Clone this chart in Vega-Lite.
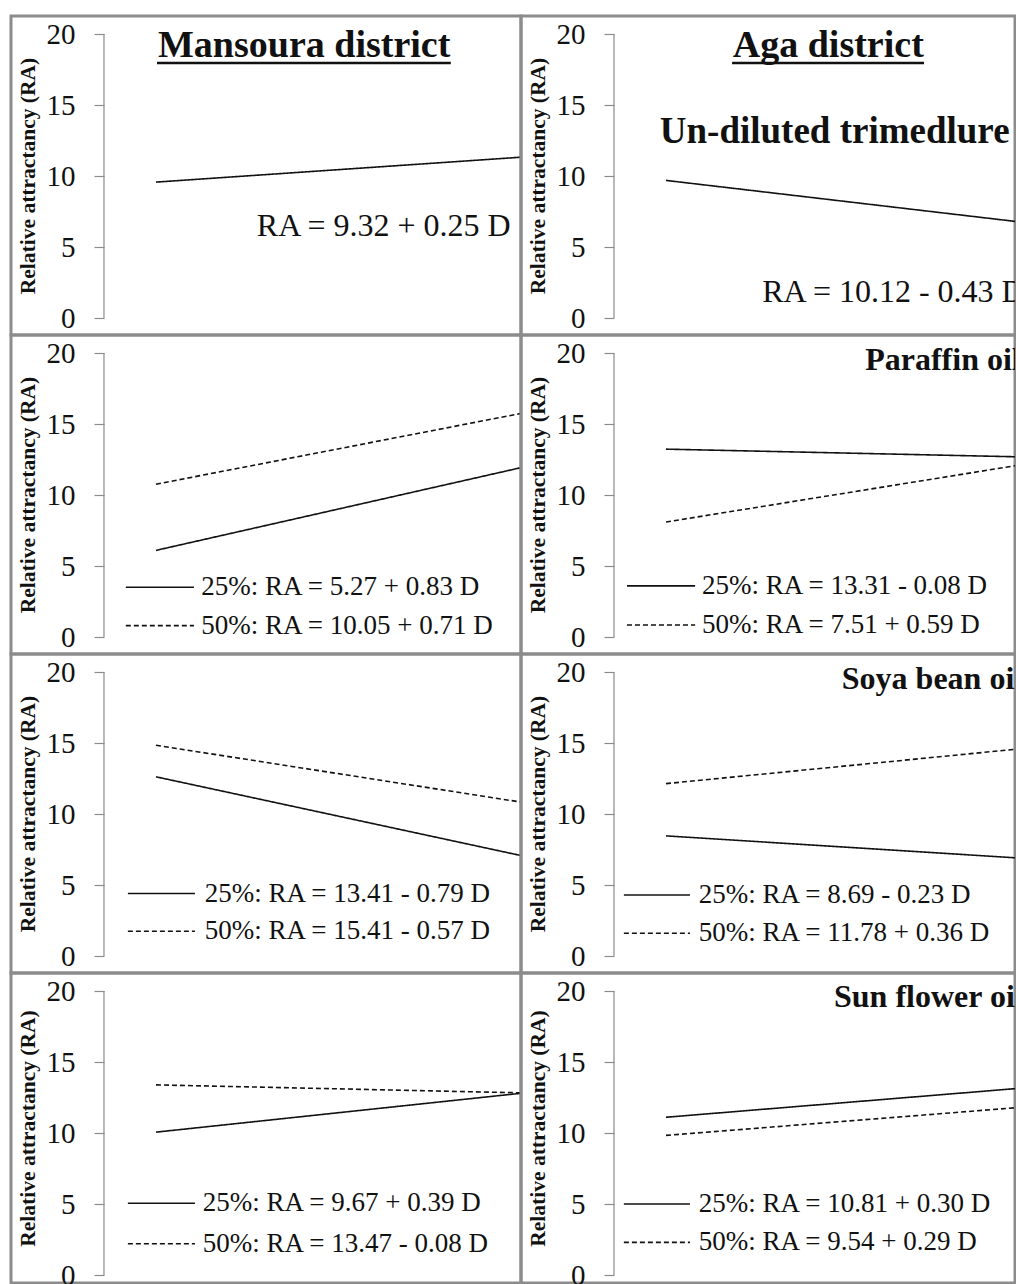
{
  "$schema": "https://vega.github.io/schema/vega-lite/v6.json",
  "padding": {"left": 9, "top": 14, "right": 0, "bottom": 0},
  "background": "white",
  "columns": 2,
  "spacing": 0,
  "bounds": "flush",
  "config": {
    "view": {"stroke": "#8c8c8c", "strokeWidth": 3},
    "concat": {"spacing": 0},
    "text": {"font": "Liberation Serif", "color": "#111", "fontSize": 27, "baseline": "middle"},
    "rule": {"color": "#111", "strokeWidth": 1.6},
    "line": {"color": "#111", "strokeWidth": 1.6}
  },
  "datasets": {
    "lines": [
      {"panel": "M1", "conc": "single", "D": 1, "RA": 9.57},
      {"panel": "M1", "conc": "single", "D": 8, "RA": 11.32},
      {"panel": "A1", "conc": "single", "D": 1, "RA": 9.69},
      {"panel": "A1", "conc": "single", "D": 8, "RA": 6.68},
      {"panel": "M2", "conc": "25%", "D": 1, "RA": 6.10},
      {"panel": "M2", "conc": "25%", "D": 8, "RA": 11.91},
      {"panel": "M2", "conc": "50%", "D": 1, "RA": 10.76},
      {"panel": "M2", "conc": "50%", "D": 8, "RA": 15.73},
      {"panel": "A2", "conc": "25%", "D": 1, "RA": 13.23},
      {"panel": "A2", "conc": "25%", "D": 8, "RA": 12.67},
      {"panel": "A2", "conc": "50%", "D": 1, "RA": 8.10},
      {"panel": "A2", "conc": "50%", "D": 8, "RA": 12.23},
      {"panel": "M3", "conc": "25%", "D": 1, "RA": 12.62},
      {"panel": "M3", "conc": "25%", "D": 8, "RA": 7.09},
      {"panel": "M3", "conc": "50%", "D": 1, "RA": 14.84},
      {"panel": "M3", "conc": "50%", "D": 8, "RA": 10.85},
      {"panel": "A3", "conc": "25%", "D": 1, "RA": 8.46},
      {"panel": "A3", "conc": "25%", "D": 8, "RA": 6.85},
      {"panel": "A3", "conc": "50%", "D": 1, "RA": 12.14},
      {"panel": "A3", "conc": "50%", "D": 8, "RA": 14.66},
      {"panel": "M4", "conc": "25%", "D": 1, "RA": 10.06},
      {"panel": "M4", "conc": "25%", "D": 8, "RA": 12.79},
      {"panel": "M4", "conc": "50%", "D": 1, "RA": 13.39},
      {"panel": "M4", "conc": "50%", "D": 8, "RA": 12.83},
      {"panel": "A4", "conc": "25%", "D": 1, "RA": 11.11},
      {"panel": "A4", "conc": "25%", "D": 8, "RA": 13.21},
      {"panel": "A4", "conc": "50%", "D": 1, "RA": 9.83},
      {"panel": "A4", "conc": "50%", "D": 8, "RA": 11.86}
    ]
  },
  "concat": [
    {
      "width": 510, "height": 319,
      "layer": [
        {"data": {"values": [{}]}, "mark": {"type": "rule", "color": "#8c8c8c", "strokeWidth": 1.2},
         "encoding": {"x": {"datum": 0, "type": "quantitative", "scale": {"domain": [-1.788, 8.02], "nice": false, "zero": false}, "axis": null},
                      "y": {"datum": 0, "type": "quantitative", "scale": {"domain": [-1.197, 21.268], "nice": false, "zero": false}},
                      "y2": {"datum": 20}}},
        {"data": {"name": "lines"}, "transform": [{"filter": "datum.panel == 'M1'"}],
         "mark": {"type": "line", "clip": true},
         "encoding": {"x": {"field": "D", "type": "quantitative", "scale": {"domain": [-1.788, 8.02], "nice": false, "zero": false}, "axis": null},
                      "y": {"field": "RA", "type": "quantitative", "scale": {"domain": [-1.197, 21.268], "nice": false, "zero": false},
                            "axis": {"values": [0, 5, 10, 15, 20], "title": "Relative attractancy (RA)", "offset": -93, "domain": false, "grid": false, "tickColor": "#8c8c8c", "tickSize": 10, "tickWidth": 1.2, "labelFont": "Liberation Serif", "labelFontSize": 29, "labelColor": "#111", "labelPadding": 19, "titleFont": "Liberation Serif", "titleFontSize": 21.5, "titleFontWeight": "bold", "titleColor": "#111", "titleX": -65}},
                      "strokeDash": {"field": "conc", "type": "nominal", "scale": {"domain": ["single", "25%", "50%"], "range": [[1, 0], [1, 0], [5, 3]]}, "legend": null}}},
        {"data": {"values": [{"label": "Mansoura district"}]}, "mark": {"type": "text", "align": "center", "baseline": "alphabetic", "fontSize": 38, "fontWeight": "bold"},
         "encoding": {"x": {"datum": 3.85, "type": "quantitative", "scale": {"domain": [-1.788, 8.02], "nice": false, "zero": false}, "axis": null},
                      "y": {"datum": 18.4, "type": "quantitative", "scale": {"domain": [-1.197, 21.268], "nice": false, "zero": false}},
                      "text": {"field": "label"}}},
        {"data": {"values": [{}]}, "mark": {"type": "rule", "strokeWidth": 2.5},
         "encoding": {"x": {"datum": 1.02, "type": "quantitative", "scale": {"domain": [-1.788, 8.02], "nice": false, "zero": false}, "axis": null},
                      "x2": {"datum": 6.67},
                      "y": {"datum": 17.95, "type": "quantitative", "scale": {"domain": [-1.197, 21.268], "nice": false, "zero": false}}}},
        {"data": {"values": [{"label": "RA = 9.32 + 0.25 D"}]}, "mark": {"type": "text", "align": "center", "fontSize": 32},
         "encoding": {"x": {"datum": 5.38, "type": "quantitative", "scale": {"domain": [-1.788, 8.02], "nice": false, "zero": false}, "axis": null},
                      "y": {"datum": 6.5, "type": "quantitative", "scale": {"domain": [-1.197, 21.268], "nice": false, "zero": false}},
                      "text": {"field": "label"}}}
      ]
    },
    {
      "width": 494, "height": 319,
      "layer": [
        {"data": {"values": [{}]}, "mark": {"type": "rule", "color": "#8c8c8c", "strokeWidth": 1.2},
         "encoding": {"x": {"datum": 0, "type": "quantitative", "scale": {"domain": [-1.788, 7.71], "nice": false, "zero": false}, "axis": null},
                      "y": {"datum": 0, "type": "quantitative", "scale": {"domain": [-1.197, 21.268], "nice": false, "zero": false}},
                      "y2": {"datum": 20}}},
        {"data": {"name": "lines"}, "transform": [{"filter": "datum.panel == 'A1'"}],
         "mark": {"type": "line", "clip": true},
         "encoding": {"x": {"field": "D", "type": "quantitative", "scale": {"domain": [-1.788, 7.71], "nice": false, "zero": false}, "axis": null},
                      "y": {"field": "RA", "type": "quantitative", "scale": {"domain": [-1.197, 21.268], "nice": false, "zero": false},
                            "axis": {"values": [0, 5, 10, 15, 20], "title": "Relative attractancy (RA)", "offset": -93, "domain": false, "grid": false, "tickColor": "#8c8c8c", "tickSize": 10, "tickWidth": 1.2, "labelFont": "Liberation Serif", "labelFontSize": 29, "labelColor": "#111", "labelPadding": 19, "titleFont": "Liberation Serif", "titleFontSize": 21.5, "titleFontWeight": "bold", "titleColor": "#111", "titleX": -65}},
                      "strokeDash": {"field": "conc", "type": "nominal", "scale": {"domain": ["single", "25%", "50%"], "range": [[1, 0], [1, 0], [5, 3]]}, "legend": null}}},
        {"data": {"values": [{"label": "Aga district"}]}, "mark": {"type": "text", "align": "center", "baseline": "alphabetic", "fontSize": 38, "fontWeight": "bold", "clip": true},
         "encoding": {"x": {"datum": 4.12, "type": "quantitative", "scale": {"domain": [-1.788, 7.71], "nice": false, "zero": false}, "axis": null},
                      "y": {"datum": 18.4, "type": "quantitative", "scale": {"domain": [-1.197, 21.268], "nice": false, "zero": false}},
                      "text": {"field": "label"}}},
        {"data": {"values": [{}]}, "mark": {"type": "rule", "strokeWidth": 2.5},
         "encoding": {"x": {"datum": 2.27, "type": "quantitative", "scale": {"domain": [-1.788, 7.71], "nice": false, "zero": false}, "axis": null},
                      "x2": {"datum": 5.96},
                      "y": {"datum": 17.95, "type": "quantitative", "scale": {"domain": [-1.197, 21.268], "nice": false, "zero": false}}}},
        {"data": {"values": [{"label": "Un-diluted trimedlure"}]}, "mark": {"type": "text", "align": "left", "fontSize": 37, "fontWeight": "bold", "clip": true},
         "encoding": {"x": {"datum": 0.88, "type": "quantitative", "scale": {"domain": [-1.788, 7.71], "nice": false, "zero": false}, "axis": null},
                      "y": {"datum": 13.1, "type": "quantitative", "scale": {"domain": [-1.197, 21.268], "nice": false, "zero": false}},
                      "text": {"field": "label"}}},
        {"data": {"values": [{"label": "RA = 10.12 - 0.43 D"}]}, "mark": {"type": "text", "align": "left", "fontSize": 32, "clip": true},
         "encoding": {"x": {"datum": 2.85, "type": "quantitative", "scale": {"domain": [-1.788, 7.71], "nice": false, "zero": false}, "axis": null},
                      "y": {"datum": 1.83, "type": "quantitative", "scale": {"domain": [-1.197, 21.268], "nice": false, "zero": false}},
                      "text": {"field": "label"}}}
      ]
    },
    {
      "width": 510, "height": 319,
      "layer": [
        {"data": {"values": [{}]}, "mark": {"type": "rule", "color": "#8c8c8c", "strokeWidth": 1.2},
         "encoding": {"x": {"datum": 0, "type": "quantitative", "scale": {"domain": [-1.788, 8.02], "nice": false, "zero": false}, "axis": null},
                      "y": {"datum": 0, "type": "quantitative", "scale": {"domain": [-1.197, 21.268], "nice": false, "zero": false}},
                      "y2": {"datum": 20}}},
        {"data": {"name": "lines"}, "transform": [{"filter": "datum.panel == 'M2'"}],
         "mark": {"type": "line", "clip": true},
         "encoding": {"x": {"field": "D", "type": "quantitative", "scale": {"domain": [-1.788, 8.02], "nice": false, "zero": false}, "axis": null},
                      "y": {"field": "RA", "type": "quantitative", "scale": {"domain": [-1.197, 21.268], "nice": false, "zero": false},
                            "axis": {"values": [0, 5, 10, 15, 20], "title": "Relative attractancy (RA)", "offset": -93, "domain": false, "grid": false, "tickColor": "#8c8c8c", "tickSize": 10, "tickWidth": 1.2, "labelFont": "Liberation Serif", "labelFontSize": 29, "labelColor": "#111", "labelPadding": 19, "titleFont": "Liberation Serif", "titleFontSize": 21.5, "titleFontWeight": "bold", "titleColor": "#111", "titleX": -65}},
                      "strokeDash": {"field": "conc", "type": "nominal", "scale": {"domain": ["single", "25%", "50%"], "range": [[1, 0], [1, 0], [5, 3]]}, "legend": null}}},
        {"data": {"values": [{}]}, "mark": {"type": "rule"},
         "encoding": {"x": {"datum": 0.42, "type": "quantitative", "scale": {"domain": [-1.788, 8.02], "nice": false, "zero": false}, "axis": null},
                      "x2": {"datum": 1.73},
                      "y": {"datum": 3.5, "type": "quantitative", "scale": {"domain": [-1.197, 21.268], "nice": false, "zero": false}}}},
        {"data": {"values": [{}]}, "mark": {"type": "rule", "strokeDash": [5, 3]},
         "encoding": {"x": {"datum": 0.42, "type": "quantitative", "scale": {"domain": [-1.788, 8.02], "nice": false, "zero": false}, "axis": null},
                      "x2": {"datum": 1.73},
                      "y": {"datum": 0.8, "type": "quantitative", "scale": {"domain": [-1.197, 21.268], "nice": false, "zero": false}}}},
        {"data": {"values": [{"label": "25%: RA = 5.27 + 0.83 D"}]}, "mark": {"type": "text", "align": "left"},
         "encoding": {"x": {"datum": 1.87, "type": "quantitative", "scale": {"domain": [-1.788, 8.02], "nice": false, "zero": false}, "axis": null},
                      "y": {"datum": 3.5, "type": "quantitative", "scale": {"domain": [-1.197, 21.268], "nice": false, "zero": false}},
                      "text": {"field": "label"}}},
        {"data": {"values": [{"label": "50%: RA = 10.05 + 0.71 D"}]}, "mark": {"type": "text", "align": "left"},
         "encoding": {"x": {"datum": 1.87, "type": "quantitative", "scale": {"domain": [-1.788, 8.02], "nice": false, "zero": false}, "axis": null},
                      "y": {"datum": 0.8, "type": "quantitative", "scale": {"domain": [-1.197, 21.268], "nice": false, "zero": false}},
                      "text": {"field": "label"}}}
      ]
    },
    {
      "width": 494, "height": 319,
      "layer": [
        {"data": {"values": [{}]}, "mark": {"type": "rule", "color": "#8c8c8c", "strokeWidth": 1.2},
         "encoding": {"x": {"datum": 0, "type": "quantitative", "scale": {"domain": [-1.788, 7.71], "nice": false, "zero": false}, "axis": null},
                      "y": {"datum": 0, "type": "quantitative", "scale": {"domain": [-1.197, 21.268], "nice": false, "zero": false}},
                      "y2": {"datum": 20}}},
        {"data": {"name": "lines"}, "transform": [{"filter": "datum.panel == 'A2'"}],
         "mark": {"type": "line", "clip": true},
         "encoding": {"x": {"field": "D", "type": "quantitative", "scale": {"domain": [-1.788, 7.71], "nice": false, "zero": false}, "axis": null},
                      "y": {"field": "RA", "type": "quantitative", "scale": {"domain": [-1.197, 21.268], "nice": false, "zero": false},
                            "axis": {"values": [0, 5, 10, 15, 20], "title": "Relative attractancy (RA)", "offset": -93, "domain": false, "grid": false, "tickColor": "#8c8c8c", "tickSize": 10, "tickWidth": 1.2, "labelFont": "Liberation Serif", "labelFontSize": 29, "labelColor": "#111", "labelPadding": 19, "titleFont": "Liberation Serif", "titleFontSize": 21.5, "titleFontWeight": "bold", "titleColor": "#111", "titleX": -65}},
                      "strokeDash": {"field": "conc", "type": "nominal", "scale": {"domain": ["single", "25%", "50%"], "range": [[1, 0], [1, 0], [5, 3]]}, "legend": null}}},
        {"data": {"values": [{"label": "Paraffin oil"}]}, "mark": {"type": "text", "align": "left", "fontSize": 32, "fontWeight": "bold", "clip": true},
         "encoding": {"x": {"datum": 4.83, "type": "quantitative", "scale": {"domain": [-1.788, 7.71], "nice": false, "zero": false}, "axis": null},
                      "y": {"datum": 19.5, "type": "quantitative", "scale": {"domain": [-1.197, 21.268], "nice": false, "zero": false}},
                      "text": {"field": "label"}}},
        {"data": {"values": [{}]}, "mark": {"type": "rule"},
         "encoding": {"x": {"datum": 0.25, "type": "quantitative", "scale": {"domain": [-1.788, 7.71], "nice": false, "zero": false}, "axis": null},
                      "x2": {"datum": 1.56},
                      "y": {"datum": 3.6, "type": "quantitative", "scale": {"domain": [-1.197, 21.268], "nice": false, "zero": false}}}},
        {"data": {"values": [{}]}, "mark": {"type": "rule", "strokeDash": [5, 3]},
         "encoding": {"x": {"datum": 0.25, "type": "quantitative", "scale": {"domain": [-1.788, 7.71], "nice": false, "zero": false}, "axis": null},
                      "x2": {"datum": 1.56},
                      "y": {"datum": 0.85, "type": "quantitative", "scale": {"domain": [-1.197, 21.268], "nice": false, "zero": false}}}},
        {"data": {"values": [{"label": "25%: RA = 13.31 - 0.08 D"}]}, "mark": {"type": "text", "align": "left", "clip": true},
         "encoding": {"x": {"datum": 1.69, "type": "quantitative", "scale": {"domain": [-1.788, 7.71], "nice": false, "zero": false}, "axis": null},
                      "y": {"datum": 3.6, "type": "quantitative", "scale": {"domain": [-1.197, 21.268], "nice": false, "zero": false}},
                      "text": {"field": "label"}}},
        {"data": {"values": [{"label": "50%: RA = 7.51 + 0.59 D"}]}, "mark": {"type": "text", "align": "left", "clip": true},
         "encoding": {"x": {"datum": 1.69, "type": "quantitative", "scale": {"domain": [-1.788, 7.71], "nice": false, "zero": false}, "axis": null},
                      "y": {"datum": 0.85, "type": "quantitative", "scale": {"domain": [-1.197, 21.268], "nice": false, "zero": false}},
                      "text": {"field": "label"}}}
      ]
    },
    {
      "width": 510, "height": 319,
      "layer": [
        {"data": {"values": [{}]}, "mark": {"type": "rule", "color": "#8c8c8c", "strokeWidth": 1.2},
         "encoding": {"x": {"datum": 0, "type": "quantitative", "scale": {"domain": [-1.788, 8.02], "nice": false, "zero": false}, "axis": null},
                      "y": {"datum": 0, "type": "quantitative", "scale": {"domain": [-1.197, 21.268], "nice": false, "zero": false}},
                      "y2": {"datum": 20}}},
        {"data": {"name": "lines"}, "transform": [{"filter": "datum.panel == 'M3'"}],
         "mark": {"type": "line", "clip": true},
         "encoding": {"x": {"field": "D", "type": "quantitative", "scale": {"domain": [-1.788, 8.02], "nice": false, "zero": false}, "axis": null},
                      "y": {"field": "RA", "type": "quantitative", "scale": {"domain": [-1.197, 21.268], "nice": false, "zero": false},
                            "axis": {"values": [0, 5, 10, 15, 20], "title": "Relative attractancy (RA)", "offset": -93, "domain": false, "grid": false, "tickColor": "#8c8c8c", "tickSize": 10, "tickWidth": 1.2, "labelFont": "Liberation Serif", "labelFontSize": 29, "labelColor": "#111", "labelPadding": 19, "titleFont": "Liberation Serif", "titleFontSize": 21.5, "titleFontWeight": "bold", "titleColor": "#111", "titleX": -65}},
                      "strokeDash": {"field": "conc", "type": "nominal", "scale": {"domain": ["single", "25%", "50%"], "range": [[1, 0], [1, 0], [5, 3]]}, "legend": null}}},
        {"data": {"values": [{}]}, "mark": {"type": "rule"},
         "encoding": {"x": {"datum": 0.46, "type": "quantitative", "scale": {"domain": [-1.788, 8.02], "nice": false, "zero": false}, "axis": null},
                      "x2": {"datum": 1.75},
                      "y": {"datum": 4.4, "type": "quantitative", "scale": {"domain": [-1.197, 21.268], "nice": false, "zero": false}}}},
        {"data": {"values": [{}]}, "mark": {"type": "rule", "strokeDash": [5, 3]},
         "encoding": {"x": {"datum": 0.46, "type": "quantitative", "scale": {"domain": [-1.788, 8.02], "nice": false, "zero": false}, "axis": null},
                      "x2": {"datum": 1.75},
                      "y": {"datum": 1.74, "type": "quantitative", "scale": {"domain": [-1.197, 21.268], "nice": false, "zero": false}}}},
        {"data": {"values": [{"label": "25%: RA = 13.41 - 0.79 D"}]}, "mark": {"type": "text", "align": "left"},
         "encoding": {"x": {"datum": 1.94, "type": "quantitative", "scale": {"domain": [-1.788, 8.02], "nice": false, "zero": false}, "axis": null},
                      "y": {"datum": 4.4, "type": "quantitative", "scale": {"domain": [-1.197, 21.268], "nice": false, "zero": false}},
                      "text": {"field": "label"}}},
        {"data": {"values": [{"label": "50%: RA = 15.41 - 0.57 D"}]}, "mark": {"type": "text", "align": "left"},
         "encoding": {"x": {"datum": 1.94, "type": "quantitative", "scale": {"domain": [-1.788, 8.02], "nice": false, "zero": false}, "axis": null},
                      "y": {"datum": 1.74, "type": "quantitative", "scale": {"domain": [-1.197, 21.268], "nice": false, "zero": false}},
                      "text": {"field": "label"}}}
      ]
    },
    {
      "width": 494, "height": 319,
      "layer": [
        {"data": {"values": [{}]}, "mark": {"type": "rule", "color": "#8c8c8c", "strokeWidth": 1.2},
         "encoding": {"x": {"datum": 0, "type": "quantitative", "scale": {"domain": [-1.788, 7.71], "nice": false, "zero": false}, "axis": null},
                      "y": {"datum": 0, "type": "quantitative", "scale": {"domain": [-1.197, 21.268], "nice": false, "zero": false}},
                      "y2": {"datum": 20}}},
        {"data": {"name": "lines"}, "transform": [{"filter": "datum.panel == 'A3'"}],
         "mark": {"type": "line", "clip": true},
         "encoding": {"x": {"field": "D", "type": "quantitative", "scale": {"domain": [-1.788, 7.71], "nice": false, "zero": false}, "axis": null},
                      "y": {"field": "RA", "type": "quantitative", "scale": {"domain": [-1.197, 21.268], "nice": false, "zero": false},
                            "axis": {"values": [0, 5, 10, 15, 20], "title": "Relative attractancy (RA)", "offset": -93, "domain": false, "grid": false, "tickColor": "#8c8c8c", "tickSize": 10, "tickWidth": 1.2, "labelFont": "Liberation Serif", "labelFontSize": 29, "labelColor": "#111", "labelPadding": 19, "titleFont": "Liberation Serif", "titleFontSize": 21.5, "titleFontWeight": "bold", "titleColor": "#111", "titleX": -65}},
                      "strokeDash": {"field": "conc", "type": "nominal", "scale": {"domain": ["single", "25%", "50%"], "range": [[1, 0], [1, 0], [5, 3]]}, "legend": null}}},
        {"data": {"values": [{"label": "Soya bean oil"}]}, "mark": {"type": "text", "align": "left", "fontSize": 32, "fontWeight": "bold", "clip": true},
         "encoding": {"x": {"datum": 4.38, "type": "quantitative", "scale": {"domain": [-1.788, 7.71], "nice": false, "zero": false}, "axis": null},
                      "y": {"datum": 19.5, "type": "quantitative", "scale": {"domain": [-1.197, 21.268], "nice": false, "zero": false}},
                      "text": {"field": "label"}}},
        {"data": {"values": [{}]}, "mark": {"type": "rule"},
         "encoding": {"x": {"datum": 0.19, "type": "quantitative", "scale": {"domain": [-1.788, 7.71], "nice": false, "zero": false}, "axis": null},
                      "x2": {"datum": 1.46},
                      "y": {"datum": 4.3, "type": "quantitative", "scale": {"domain": [-1.197, 21.268], "nice": false, "zero": false}}}},
        {"data": {"values": [{}]}, "mark": {"type": "rule", "strokeDash": [5, 3]},
         "encoding": {"x": {"datum": 0.19, "type": "quantitative", "scale": {"domain": [-1.788, 7.71], "nice": false, "zero": false}, "axis": null},
                      "x2": {"datum": 1.46},
                      "y": {"datum": 1.6, "type": "quantitative", "scale": {"domain": [-1.197, 21.268], "nice": false, "zero": false}}}},
        {"data": {"values": [{"label": "25%: RA = 8.69 - 0.23 D"}]}, "mark": {"type": "text", "align": "left", "clip": true},
         "encoding": {"x": {"datum": 1.63, "type": "quantitative", "scale": {"domain": [-1.788, 7.71], "nice": false, "zero": false}, "axis": null},
                      "y": {"datum": 4.3, "type": "quantitative", "scale": {"domain": [-1.197, 21.268], "nice": false, "zero": false}},
                      "text": {"field": "label"}}},
        {"data": {"values": [{"label": "50%: RA = 11.78 + 0.36 D"}]}, "mark": {"type": "text", "align": "left", "clip": true},
         "encoding": {"x": {"datum": 1.63, "type": "quantitative", "scale": {"domain": [-1.788, 7.71], "nice": false, "zero": false}, "axis": null},
                      "y": {"datum": 1.6, "type": "quantitative", "scale": {"domain": [-1.197, 21.268], "nice": false, "zero": false}},
                      "text": {"field": "label"}}}
      ]
    },
    {
      "width": 510, "height": 310,
      "layer": [
        {"data": {"values": [{}]}, "mark": {"type": "rule", "color": "#8c8c8c", "strokeWidth": 1.2},
         "encoding": {"x": {"datum": 0, "type": "quantitative", "scale": {"domain": [-1.788, 8.02], "nice": false, "zero": false}, "axis": null},
                      "y": {"datum": 0, "type": "quantitative", "scale": {"domain": [-0.563, 21.268], "nice": false, "zero": false}},
                      "y2": {"datum": 20}}},
        {"data": {"name": "lines"}, "transform": [{"filter": "datum.panel == 'M4'"}],
         "mark": {"type": "line", "clip": true},
         "encoding": {"x": {"field": "D", "type": "quantitative", "scale": {"domain": [-1.788, 8.02], "nice": false, "zero": false}, "axis": null},
                      "y": {"field": "RA", "type": "quantitative", "scale": {"domain": [-0.563, 21.268], "nice": false, "zero": false},
                            "axis": {"values": [0, 5, 10, 15, 20], "title": "Relative attractancy (RA)", "offset": -93, "domain": false, "grid": false, "tickColor": "#8c8c8c", "tickSize": 10, "tickWidth": 1.2, "labelFont": "Liberation Serif", "labelFontSize": 29, "labelColor": "#111", "labelPadding": 19, "titleFont": "Liberation Serif", "titleFontSize": 21.5, "titleFontWeight": "bold", "titleColor": "#111", "titleX": -65}},
                      "strokeDash": {"field": "conc", "type": "nominal", "scale": {"domain": ["single", "25%", "50%"], "range": [[1, 0], [1, 0], [5, 3]]}, "legend": null}}},
        {"data": {"values": [{}]}, "mark": {"type": "rule"},
         "encoding": {"x": {"datum": 0.46, "type": "quantitative", "scale": {"domain": [-1.788, 8.02], "nice": false, "zero": false}, "axis": null},
                      "x2": {"datum": 1.75},
                      "y": {"datum": 5.05, "type": "quantitative", "scale": {"domain": [-0.563, 21.268], "nice": false, "zero": false}}}},
        {"data": {"values": [{}]}, "mark": {"type": "rule", "strokeDash": [5, 3]},
         "encoding": {"x": {"datum": 0.46, "type": "quantitative", "scale": {"domain": [-1.788, 8.02], "nice": false, "zero": false}, "axis": null},
                      "x2": {"datum": 1.75},
                      "y": {"datum": 2.2, "type": "quantitative", "scale": {"domain": [-0.563, 21.268], "nice": false, "zero": false}}}},
        {"data": {"values": [{"label": "25%: RA = 9.67 + 0.39 D"}]}, "mark": {"type": "text", "align": "left"},
         "encoding": {"x": {"datum": 1.9, "type": "quantitative", "scale": {"domain": [-1.788, 8.02], "nice": false, "zero": false}, "axis": null},
                      "y": {"datum": 5.05, "type": "quantitative", "scale": {"domain": [-0.563, 21.268], "nice": false, "zero": false}},
                      "text": {"field": "label"}}},
        {"data": {"values": [{"label": "50%: RA = 13.47 - 0.08 D"}]}, "mark": {"type": "text", "align": "left"},
         "encoding": {"x": {"datum": 1.9, "type": "quantitative", "scale": {"domain": [-1.788, 8.02], "nice": false, "zero": false}, "axis": null},
                      "y": {"datum": 2.2, "type": "quantitative", "scale": {"domain": [-0.563, 21.268], "nice": false, "zero": false}},
                      "text": {"field": "label"}}}
      ]
    },
    {
      "width": 494, "height": 310,
      "layer": [
        {"data": {"values": [{}]}, "mark": {"type": "rule", "color": "#8c8c8c", "strokeWidth": 1.2},
         "encoding": {"x": {"datum": 0, "type": "quantitative", "scale": {"domain": [-1.788, 7.71], "nice": false, "zero": false}, "axis": null},
                      "y": {"datum": 0, "type": "quantitative", "scale": {"domain": [-0.563, 21.268], "nice": false, "zero": false}},
                      "y2": {"datum": 20}}},
        {"data": {"name": "lines"}, "transform": [{"filter": "datum.panel == 'A4'"}],
         "mark": {"type": "line", "clip": true},
         "encoding": {"x": {"field": "D", "type": "quantitative", "scale": {"domain": [-1.788, 7.71], "nice": false, "zero": false}, "axis": null},
                      "y": {"field": "RA", "type": "quantitative", "scale": {"domain": [-0.563, 21.268], "nice": false, "zero": false},
                            "axis": {"values": [0, 5, 10, 15, 20], "title": "Relative attractancy (RA)", "offset": -93, "domain": false, "grid": false, "tickColor": "#8c8c8c", "tickSize": 10, "tickWidth": 1.2, "labelFont": "Liberation Serif", "labelFontSize": 29, "labelColor": "#111", "labelPadding": 19, "titleFont": "Liberation Serif", "titleFontSize": 21.5, "titleFontWeight": "bold", "titleColor": "#111", "titleX": -65}},
                      "strokeDash": {"field": "conc", "type": "nominal", "scale": {"domain": ["single", "25%", "50%"], "range": [[1, 0], [1, 0], [5, 3]]}, "legend": null}}},
        {"data": {"values": [{"label": "Sun flower oil"}]}, "mark": {"type": "text", "align": "left", "fontSize": 32, "fontWeight": "bold", "clip": true},
         "encoding": {"x": {"datum": 4.23, "type": "quantitative", "scale": {"domain": [-1.788, 7.71], "nice": false, "zero": false}, "axis": null},
                      "y": {"datum": 19.6, "type": "quantitative", "scale": {"domain": [-0.563, 21.268], "nice": false, "zero": false}},
                      "text": {"field": "label"}}},
        {"data": {"values": [{}]}, "mark": {"type": "rule"},
         "encoding": {"x": {"datum": 0.19, "type": "quantitative", "scale": {"domain": [-1.788, 7.71], "nice": false, "zero": false}, "axis": null},
                      "x2": {"datum": 1.46},
                      "y": {"datum": 5.0, "type": "quantitative", "scale": {"domain": [-0.563, 21.268], "nice": false, "zero": false}}}},
        {"data": {"values": [{}]}, "mark": {"type": "rule", "strokeDash": [5, 3]},
         "encoding": {"x": {"datum": 0.19, "type": "quantitative", "scale": {"domain": [-1.788, 7.71], "nice": false, "zero": false}, "axis": null},
                      "x2": {"datum": 1.46},
                      "y": {"datum": 2.3, "type": "quantitative", "scale": {"domain": [-0.563, 21.268], "nice": false, "zero": false}}}},
        {"data": {"values": [{"label": "25%: RA = 10.81 + 0.30 D"}]}, "mark": {"type": "text", "align": "left", "clip": true},
         "encoding": {"x": {"datum": 1.63, "type": "quantitative", "scale": {"domain": [-1.788, 7.71], "nice": false, "zero": false}, "axis": null},
                      "y": {"datum": 5.0, "type": "quantitative", "scale": {"domain": [-0.563, 21.268], "nice": false, "zero": false}},
                      "text": {"field": "label"}}},
        {"data": {"values": [{"label": "50%: RA = 9.54 + 0.29 D"}]}, "mark": {"type": "text", "align": "left", "clip": true},
         "encoding": {"x": {"datum": 1.63, "type": "quantitative", "scale": {"domain": [-1.788, 7.71], "nice": false, "zero": false}, "axis": null},
                      "y": {"datum": 2.3, "type": "quantitative", "scale": {"domain": [-0.563, 21.268], "nice": false, "zero": false}},
                      "text": {"field": "label"}}}
      ]
    }
  ]
}
